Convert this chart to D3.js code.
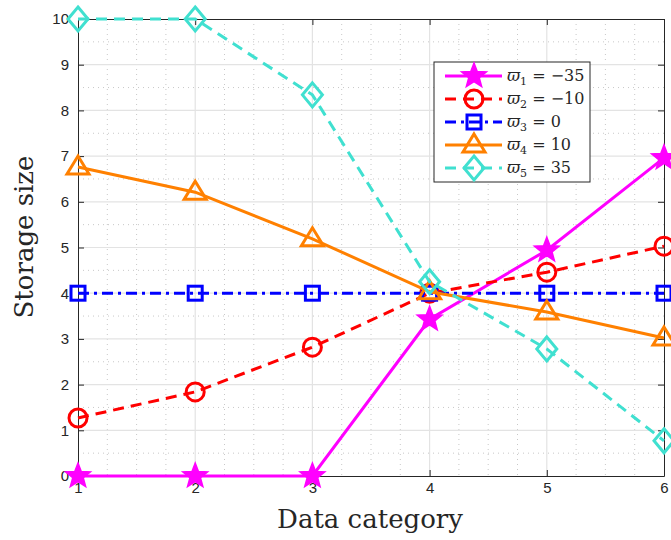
<!DOCTYPE html>
<html><head><meta charset="utf-8">
<script src="https://cdn.jsdelivr.net/npm/d3@7"></script>
<style>body{margin:0;background:#fff}</style>
</head><body>
<script>
const categories = [1, 2, 3, 4, 5, 6];
const s1 = [0, 0, 0, 3.43, 4.94, 6.96];
const s2 = [1.27, 1.84, 2.82, 4.0, 4.46, 5.03];
const s3 = [4, 4, 4, 4, 4, 4];
const s4 = [6.76, 6.21, 5.19, 4.03, 3.59, 3.02];
const s5 = [10, 10, 8.34, 4.25, 2.78, 0.77];
const yTicks = [0,1,2,3,4,5,6,7,8,9,10];
const legendSub = ["1","2","3","4","5"];
const legendVal = ["\u221235","\u221210","0","10","35"];

const series = [
  {v:s1, color:"#ff00ff", dash:null, marker:"star"},
  {v:s2, color:"#ff0000", dash:"11,7", marker:"circle"},
  {v:s3, color:"#0000ff", dash:"11,5,3,5", marker:"square"},
  {v:s4, color:"#ff8000", dash:null, marker:"triangle"},
  {v:s5, color:"#40e0d0", dash:"11,7", marker:"diamond"}
];

const W=671,H=540;
const svg=d3.select("body").append("svg").attr("width",W).attr("height",H);
const L=78,R=664,T=19,B=476;
const x=d3.scaleLinear().domain([1,6]).range([L,R]);
const y=d3.scaleLinear().domain([0,10]).range([B,T]);

// minor grid
const minorX=d3.range(1.25,6,0.25).filter(d=>Math.abs(d-Math.round(d))>1e-6);
const minorY=d3.range(0.5,10,1);
svg.append("g").selectAll("line").data(minorX).join("line")
 .attr("x1",d=>x(d)).attr("x2",d=>x(d)).attr("y1",T).attr("y2",B)
 .attr("stroke","#c8c8c8").attr("stroke-width",1).attr("stroke-dasharray","1,4");
svg.append("g").selectAll("line").data(minorY).join("line")
 .attr("y1",d=>y(d)).attr("y2",d=>y(d)).attr("x1",L).attr("x2",R)
 .attr("stroke","#c8c8c8").attr("stroke-width",1).attr("stroke-dasharray","1,4");
// major grid
svg.append("g").selectAll("line").data(categories.slice(1,-1)).join("line")
 .attr("x1",d=>x(d)).attr("x2",d=>x(d)).attr("y1",T).attr("y2",B)
 .attr("stroke","#e3e3e3").attr("stroke-width",1.2);
svg.append("g").selectAll("line").data(yTicks.slice(1,-1)).join("line")
 .attr("y1",d=>y(d)).attr("y2",d=>y(d)).attr("x1",L).attr("x2",R)
 .attr("stroke","#e3e3e3").attr("stroke-width",1.2);

// axes
const xa=svg.append("g").attr("transform",`translate(0,${B})`)
 .call(d3.axisBottom(x).tickValues(categories).tickFormat(d3.format("d")).tickSizeInner(-6).tickSizeOuter(0).tickPadding(9));
const ya=svg.append("g").attr("transform",`translate(${L},0)`)
 .call(d3.axisLeft(y).tickValues(yTicks).tickFormat(d3.format("d")).tickSizeInner(-6).tickSizeOuter(0).tickPadding(9));
[xa,ya].forEach(a=>{
  a.selectAll("text").attr("font-family","Liberation Sans, Arial, sans-serif").attr("font-size",15).attr("fill","#262626");
  a.selectAll("line").attr("stroke","#262626");
  a.select(".domain").attr("stroke","#262626");
});
xa.selectAll("text").attr("dy","0.55em");
// box top/right
const tx=d3.axisTop(x).tickValues(categories).tickFormat("").tickSizeInner(-6).tickSizeOuter(0);
const ry=d3.axisRight(y).tickValues(yTicks).tickFormat("").tickSizeInner(-6).tickSizeOuter(0);
const ta=svg.append("g").attr("transform",`translate(0,${T})`).call(tx);
const ra=svg.append("g").attr("transform",`translate(${R},0)`).call(ry);
[ta,ra].forEach(a=>{a.selectAll("line").attr("stroke","#262626");a.select(".domain").attr("stroke","#262626");});

// axis labels
svg.append("text").attr("x",370).attr("y",528).attr("text-anchor","middle")
 .attr("font-family","DejaVu Serif, serif").attr("font-size",26).attr("fill","#262626").text("Data category");
svg.append("text").attr("transform",`translate(33,237) rotate(-90)`).attr("text-anchor","middle")
 .attr("font-family","DejaVu Serif, serif").attr("font-size",26).attr("fill","#262626").text("Storage size");

function drawMarker(g,type,cx,cy,color){
  const sw=3;
  if(type==="star"){
    const pts=[];
    for(let i=0;i<10;i++){const r=i%2===0?13:5.5;const a=-Math.PI/2+i*Math.PI/5;pts.push([cx+r*Math.cos(a),cy+r*Math.sin(a)]);}
    g.append("polygon").attr("points",pts.map(p=>p.join(",")).join(" ")).attr("fill",color).attr("stroke",color).attr("stroke-width",1.5);
  } else if(type==="circle"){
    g.append("circle").attr("cx",cx).attr("cy",cy).attr("r",9).attr("fill","none").attr("stroke",color).attr("stroke-width",sw);
  } else if(type==="square"){
    g.append("rect").attr("x",cx-7).attr("y",cy-7).attr("width",14).attr("height",14).attr("fill","none").attr("stroke",color).attr("stroke-width",sw);
  } else if(type==="triangle"){
    g.append("polygon").attr("points",`${cx},${cy-11} ${cx+11},${cy+7} ${cx-11},${cy+7}`).attr("fill","none").attr("stroke",color).attr("stroke-width",sw);
  } else if(type==="diamond"){
    g.append("polygon").attr("points",`${cx},${cy-12} ${cx+10},${cy} ${cx},${cy+12} ${cx-10},${cy}`).attr("fill","none").attr("stroke",color).attr("stroke-width",sw);
  }
}

const line=d3.line().x((d,i)=>x(categories[i])).y(d=>y(d));
series.forEach(s=>{
  const g=svg.append("g");
  g.append("path").attr("d",line(s.v)).attr("fill","none").attr("stroke",s.color).attr("stroke-width",3)
   .attr("stroke-dasharray",s.dash);
  s.v.forEach((v,i)=>drawMarker(g,s.marker,x(categories[i]),y(v),s.color));
});

// legend
const lg=svg.append("g");
lg.append("rect").attr("x",434).attr("y",62).attr("width",156).attr("height",120).attr("fill","#fff").attr("stroke","#262626").attr("stroke-width",1);
const ly=[76,99,122,145,168];
series.forEach((s,i)=>{
  const yy=ly[i];
  lg.append("line").attr("x1",445).attr("x2",502).attr("y1",yy).attr("y2",yy).attr("stroke",s.color).attr("stroke-width",3).attr("stroke-dasharray",s.dash);
  drawMarker(lg,s.marker,474,yy,s.color);
  const t=lg.append("text").attr("x",507).attr("y",yy+5).attr("font-family","DejaVu Serif, serif").attr("font-size",16).attr("fill","#262626");
  t.append("tspan").attr("font-style","italic").text("\u03d6");
  t.append("tspan").attr("font-size",11).attr("dy",4).text(legendSub[i]);
  t.append("tspan").attr("dy",-4).text(" = "+legendVal[i]);
});
</script>
</body></html>
